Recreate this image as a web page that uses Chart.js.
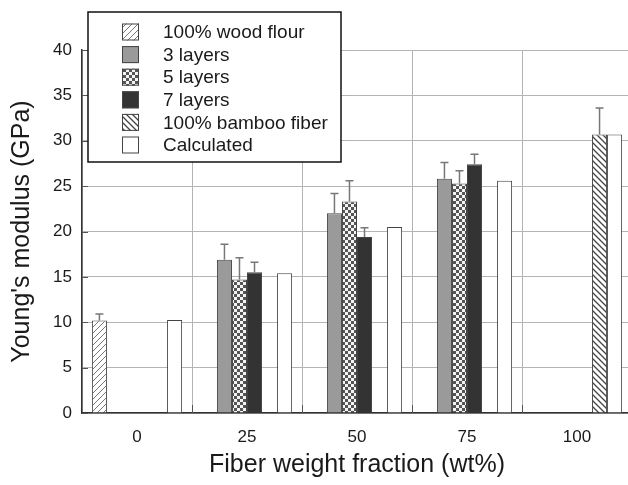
<!DOCTYPE html>
<html>
<head>
<meta charset="utf-8">
<script src="https://cdn.jsdelivr.net/npm/chart.js@4"></script>
<style>
  html, body { margin: 0; padding: 0; background: #fff; overflow: hidden; }
  canvas { display: block; }
</style>
</head>
<body>
<canvas id="modulus" width="660" height="485"></canvas>
<script>
// fiber weight fraction (wt%)
const categories = ['0', '25', '50', '75', '100'];

// Young's modulus (GPa) and upper error (GPa)
const woodFlour = [10.2, null, null, null, null];
const woodFlourErr = [0.7, null, null, null, null];
const threeLayers = [null, 16.9, 22.0, 25.8, null];
const threeLayersErr = [null, 1.7, 2.2, 1.8, null];
const fiveLayers = [null, 14.7, 23.3, 25.3, null];
const fiveLayersErr = [null, 2.4, 2.3, 1.4, null];
const sevenLayers = [null, 15.5, 19.4, 27.4, null];
const sevenLayersErr = [null, 1.1, 1.0, 1.1, null];
const bambooFiber = [null, null, null, null, 30.7];
const bambooFiberErr = [null, null, null, null, 2.9];
const calculated = [10.25, 15.4, 20.5, 25.6, 30.7];

const yTicks = [0, 5, 10, 15, 20, 25, 30, 35, 40];

function hatch(dir, color, width) {
    const c = document.createElement('canvas');
    c.width = 6; c.height = 6;
    const g = c.getContext('2d');
    g.fillStyle = '#fff';
    g.fillRect(0, 0, 6, 6);
    g.strokeStyle = color;
    g.lineWidth = width;
    g.beginPath();
    if (dir === '/') {
        g.moveTo(-1, 7); g.lineTo(7, -1);
        g.moveTo(-1, 1); g.lineTo(1, -1);
        g.moveTo(5, 7); g.lineTo(7, 5);
    } else {
        g.moveTo(-1, -1); g.lineTo(7, 7);
        g.moveTo(5, -1); g.lineTo(7, 1);
        g.moveTo(-1, 5); g.lineTo(1, 7);
    }
    g.stroke();
    return g.createPattern(c, 'repeat');
}

function checker() {
    const c = document.createElement('canvas');
    c.width = 6; c.height = 6;
    const g = c.getContext('2d');
    g.fillStyle = '#f4f4f4';
    g.fillRect(0, 0, 6, 6);
    g.fillStyle = '#555';
    g.fillRect(0, 0, 3, 3);
    g.fillRect(3, 3, 3, 3);
    return g.createPattern(c, 'repeat');
}

// upward error bars with a small cap
const errorBars = {
    id: 'errorBars',
    afterDatasetsDraw(chart) {
        const ctx = chart.ctx;
        const y = chart.scales.y;
        ctx.save();
        ctx.strokeStyle = '#777';
        ctx.lineWidth = 1.5;
        chart.data.datasets.forEach((ds, i) => {
            if (!ds.errors) return;
            chart.getDatasetMeta(i).data.forEach((bar, j) => {
                const e = ds.errors[j];
                if (e == null || ds.data[j] == null) return;
                const top = y.getPixelForValue(ds.data[j] + e);
                ctx.beginPath();
                ctx.moveTo(bar.x, bar.y);
                ctx.lineTo(bar.x, top);
                ctx.moveTo(bar.x - 4, top);
                ctx.lineTo(bar.x + 4, top);
                ctx.stroke();
            });
        });
        ctx.restore();
    }
};

// inner tick marks on both axes
const innerTicks = {
    id: 'innerTicks',
    afterDatasetsDraw(chart) {
        const ctx = chart.ctx;
        const a = chart.chartArea;
        const x = chart.scales.x;
        const y = chart.scales.y;
        ctx.save();
        ctx.strokeStyle = '#555';
        ctx.lineWidth = 1;
        ctx.beginPath();
        yTicks.forEach(v => {
            const py = Math.round(y.getPixelForValue(v)) + 0.5;
            ctx.moveTo(a.left, py);
            ctx.lineTo(a.left + 6, py);
        });
        for (let i = 0; i < categories.length; i++) {
            const px = Math.round(x.getPixelForValue(i) + (x.getPixelForValue(1) - x.getPixelForValue(0)) / 2) + 0.5;
            ctx.moveTo(px, a.bottom);
            ctx.lineTo(px, a.bottom - 8);
        }
        ctx.stroke();
        ctx.restore();
    }
};

// boxed legend in the upper left corner of the plot
const boxLegend = {
    id: 'boxLegend',
    afterDraw(chart) {
        const ctx = chart.ctx;
        ctx.save();
        ctx.fillStyle = '#fff';
        ctx.fillRect(88, 12, 253, 150);
        ctx.strokeStyle = '#111';
        ctx.lineWidth = 1.5;
        ctx.strokeRect(88, 12, 253, 150);
        ctx.font = '19px "Liberation Sans", Arial, sans-serif';
        ctx.textBaseline = 'middle';
        chart.data.datasets.forEach((ds, i) => {
            const cy = 32 + i * 22.6;
            ctx.fillStyle = ds.backgroundColor;
            ctx.fillRect(122, cy - 8.5, 17, 17);
            ctx.strokeStyle = '#444';
            ctx.lineWidth = 1;
            ctx.strokeRect(122.5, cy - 8, 16, 16);
            ctx.fillStyle = '#1a1a1a';
            ctx.fillText(ds.label, 163, cy + 1);
        });
        ctx.restore();
    }
};

const ds = [
    { label: '100% wood flour', data: woodFlour, errors: woodFlourErr, backgroundColor: hatch('/', '#777', 1) },
    { label: '3 layers', data: threeLayers, errors: threeLayersErr, backgroundColor: '#9a9a9a' },
    { label: '5 layers', data: fiveLayers, errors: fiveLayersErr, backgroundColor: checker() },
    { label: '7 layers', data: sevenLayers, errors: sevenLayersErr, backgroundColor: '#333' },
    { label: '100% bamboo fiber', data: bambooFiber, errors: bambooFiberErr, backgroundColor: hatch('\\', '#444', 1.3) },
    { label: 'Calculated', data: calculated, backgroundColor: '#fff' }
];
ds.forEach(d => {
    d.borderColor = '#444';
    d.borderWidth = 1;
    d.categoryPercentage = 0.82;
    d.barPercentage = 1.0;
});

Chart.defaults.font.family = '"Liberation Sans", Arial, sans-serif';
Chart.defaults.color = '#1a1a1a';

new Chart(document.getElementById('modulus'), {
    type: 'bar',
    data: { labels: categories, datasets: ds },
    options: {
        responsive: false,
        animation: false,
        layout: { padding: { top: 50, right: 28, left: 0, bottom: 0 } },
        plugins: {
            legend: { display: false },
            tooltip: { enabled: false }
        },
        scales: {
            x: {
                afterFit(scale) { scale.height = 72; },
                grid: { color: '#b4b4b4', drawTicks: false },
                border: { color: '#333', width: 1.5 },
                ticks: { font: { size: 17 }, padding: 14 },
                title: {
                    display: true,
                    text: 'Fiber weight fraction (wt%)',
                    font: { size: 25 },
                    padding: { top: 0, bottom: 5 }
                }
            },
            y: {
                min: 0,
                max: 40,
                afterFit(scale) { scale.width = 82; },
                afterBuildTicks(scale) { scale.ticks = yTicks.map(v => ({ value: v })); },
                grid: { color: '#b4b4b4', drawTicks: false },
                border: { color: '#333', width: 1.5 },
                ticks: { font: { size: 17 }, padding: 10 },
                title: {
                    display: true,
                    text: "Young's modulus (GPa)",
                    font: { size: 25 },
                    padding: { top: 7, bottom: 0 }
                }
            }
        }
    },
    plugins: [errorBars, innerTicks, boxLegend]
});
</script>
</body>
</html>
